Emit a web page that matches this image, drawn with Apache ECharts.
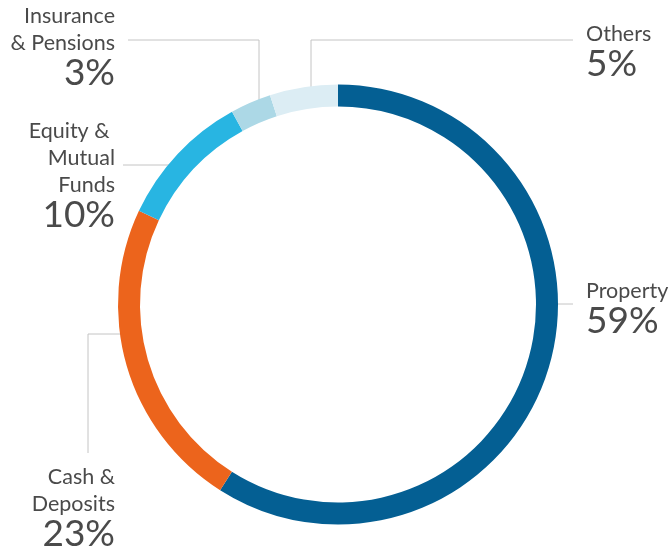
<!DOCTYPE html>
<html>
<head>
<meta charset="utf-8">
<script src="https://cdn.jsdelivr.net/npm/echarts@6/dist/echarts.min.js"></script>
<style>
  html, body { margin: 0; padding: 0; background: #fff; }
  #chart { width: 672px; height: 554px; }
</style>
</head>
<body>
<div id="chart"></div>
<script>
// data
const categories = ['Property', 'Cash & Deposits', 'Equity & Mutual Funds', 'Insurance & Pensions', 'Others'];
const labelNames = ['Property', 'Cash &\nDeposits', 'Equity & \nMutual\nFunds', 'Insurance\n& Pensions', 'Others'];
const shares = [59, 23, 10, 3, 5];

const sliceColors = ['#045f93', '#ec641c', '#28b5e2', '#acd8e6', '#dcedf4'];

// where each label sits and how its leader line bends
const labelSpots = [
    { x: 586, y: 278, align: 'left',  line: [[543, 304], [558, 304], [573, 304]] },
    { x: 115, y: 464, align: 'right', line: [[131, 334], [88, 334], [88, 453]] },
    { x: 115, y: 118, align: 'right', line: [[182, 165], [150, 165], [123, 165]] },
    { x: 115, y: 3,   align: 'right', line: [[259, 110], [259, 40], [128, 40]] },
    { x: 586, y: 21,  align: 'left',  line: [[311, 92], [311, 40], [573, 40]] }
];

const chart = echarts.init(document.getElementById('chart'));
chart.setOption({
    animation: false,
    series: [
        {
            type: 'pie',
            center: [338, 304.5],
            radius: [198, 220],
            startAngle: 90,
            clockwise: true,
            avoidLabelOverlap: false,
            silent: true,
            emphasis: { disabled: true },
            data: categories.map((name, i) => ({
                name: name,
                value: shares[i],
                itemStyle: { color: sliceColors[i] }
            })),
            label: {
                show: true,
                formatter: (p) => '{n|' + labelNames[p.dataIndex].split('\n').join('}\n{n|') + '}\n{p|' + p.value + '%}',
                rich: {
                    n: { fontFamily: 'Lato', fontSize: 21.5, lineHeight: 27, color: '#4a4a4a' },
                    p: { fontFamily: 'Lato', fontSize: 37, lineHeight: 32, color: '#4a4a4a' }
                }
            },
            labelLine: {
                show: true,
                lineStyle: { color: '#c4c4c4', width: 1 }
            },
            labelLayout: (params) => {
                const s = labelSpots[params.dataIndex];
                return {
                    x: s.x,
                    y: s.y,
                    align: s.align,
                    verticalAlign: 'top',
                    labelLinePoints: s.line
                };
            }
        }
    ]
});
</script>
</body>
</html>
